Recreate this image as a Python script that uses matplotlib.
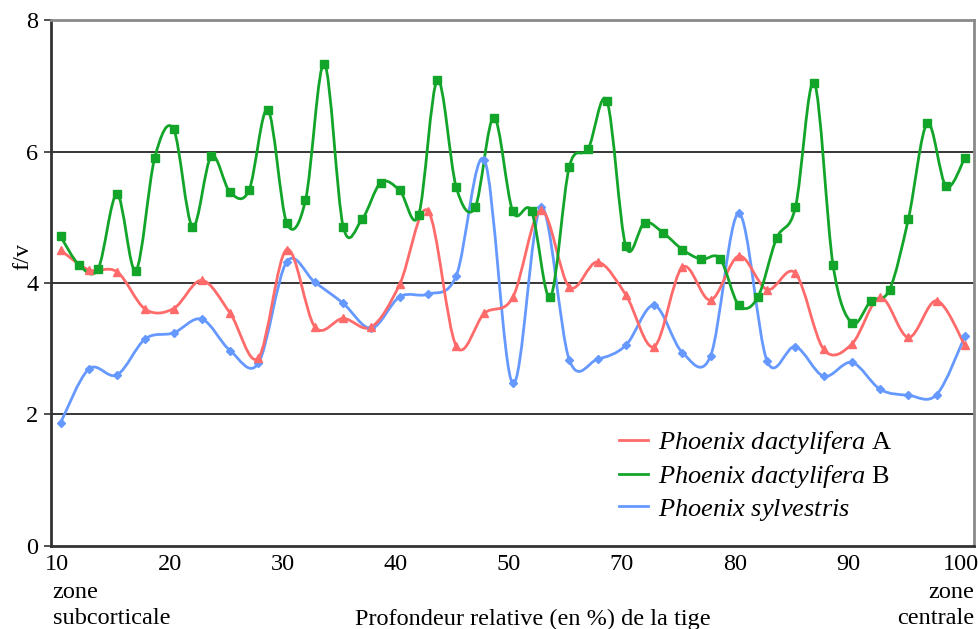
import numpy as np
import matplotlib
matplotlib.use('Agg')
import matplotlib.pyplot as plt
from matplotlib.path import Path
from matplotlib.patches import PathPatch
from matplotlib.lines import Line2D
from matplotlib.transforms import ScaledTranslation

plt.rcParams['font.family'] = ['Liberation Serif', 'DejaVu Serif']
plt.rcParams['mathtext.fontset'] = 'custom'
plt.rcParams['mathtext.it'] = 'Liberation Serif:italic'
plt.rcParams['mathtext.rm'] = 'Liberation Serif'

# f/v values
green_fv = [4.71, 4.27, 4.22, 5.35, 4.19, 5.91, 6.34, 4.86, 5.93, 5.38, 5.41, 6.64, 4.92,
            5.26, 7.34, 4.86, 4.97, 5.53, 5.41, 5.03, 7.09, 5.46, 5.15, 6.52, 5.09, 5.09,
            3.79, 5.77, 6.04, 6.77, 4.56, 4.92, 4.76, 4.51, 4.36, 4.37, 3.66, 3.78, 4.68,
            5.15, 7.05, 4.27, 3.39, 3.72, 3.90, 4.98, 6.43, 5.47, 5.91]
red_fv = [4.50, 4.20, 4.17, 3.60, 3.61, 4.04, 3.54, 2.86, 4.51, 3.33, 3.46, 3.33, 3.98,
          5.10, 3.04, 3.54, 3.78, 5.11, 3.94, 4.32, 3.82, 3.03, 4.24, 3.74, 4.41, 3.90,
          4.15, 2.99, 3.07, 3.78, 3.17, 3.73, 3.05]
blue_fv = [1.87, 2.69, 2.60, 3.15, 3.24, 3.45, 2.97, 2.78, 4.32, 4.01, 3.69, 3.31, 3.79,
           3.83, 4.11, 5.87, 2.47, 5.16, 2.83, 2.84, 3.05, 3.66, 2.94, 2.89, 5.06, 2.81,
           3.03, 2.58, 2.79, 2.38, 2.29, 2.30, 3.19]

tick_labels = ['10', '20', '30', '40', '50', '70', '80', '90', '100']
series_names = [r'$\mathit{Phoenix\ dactylifera}$ A',
                r'$\mathit{Phoenix\ dactylifera}$ B',
                r'$\mathit{Phoenix\ sylvestris}$']

c_red = '#FF6A6A'
c_green = '#12A52A'
c_blue = '#6699FF'


def smooth_path(x, y):
    # excel-like smoothed line: cubic bezier through every point
    pts = np.column_stack([x, y])
    n = len(pts)
    verts = [pts[0]]
    codes = [Path.MOVETO]
    for i in range(n - 1):
        p0 = pts[i - 1] if i > 0 else pts[i]
        p1 = pts[i]
        p2 = pts[i + 1]
        p3 = pts[i + 2] if i + 2 < n else pts[i + 1]
        verts += [p1 + (p2 - p0) / 6, p2 - (p3 - p1) / 6, p2]
        codes += [Path.CURVE4] * 3
    return Path(verts, codes)


fig = plt.figure(figsize=(9.79, 6.29), dpi=100)
ax = fig.add_axes([0.0521, 0.1326, 0.9428, 0.835])

xg = np.linspace(10, 100, len(green_fv))
xr = np.linspace(10, 100, len(red_fv))

for x, y, c, m, ms in [(xr, blue_fv, c_blue, 'D', 4.0),
                       (xr, red_fv, c_red, '^', 5.5),
                       (xg, green_fv, c_green, 's', 6.0)]:
    ax.add_patch(PathPatch(smooth_path(x, y), fill=False, edgecolor=c, lw=2.0,
                           capstyle='round', joinstyle='round'))
    ax.plot(x, y, ls='none', marker=m, ms=ms, color=c, mec=c)

ax.set_xlim(9.05, 100.9)
ax.set_ylim(0, 8)
ax.set_yticks([0, 2, 4, 6, 8])
ax.set_yticklabels(['0', '2', '4', '6', '8'], fontsize=17.5)
ax.set_xticks(np.linspace(10, 100, len(tick_labels)))
ax.set_xticklabels(tick_labels, fontsize=17.5)
ax.tick_params(axis='x', length=0, pad=6)
ax.tick_params(axis='y', length=5, width=1.2, color='#333333', pad=4)
shift = ScaledTranslation(-4 / 100, 0, fig.dpi_scale_trans)
for lab in ax.get_xticklabels():
    lab.set_transform(lab.get_transform() + shift)

for g in [2, 4, 6]:
    ax.axhline(g, color='black', lw=1.1, zorder=0)

for s in ['top', 'right']:
    ax.spines[s].set_color('#8a8a8a')
    ax.spines[s].set_linewidth(2)
for s in ['left', 'bottom']:
    ax.spines[s].set_color('#333333')
    ax.spines[s].set_linewidth(2)

ax.set_ylabel('f/v', fontsize=17.5)
ax.yaxis.set_label_coords(-0.019, 0.55)

tr = ax.get_xaxis_transform()
ax.text(9.2, -0.07, 'zone\nsubcorticale', transform=tr, ha='left', va='top',
        fontsize=17.5, linespacing=1.3)
ax.text(100.9, -0.07, 'zone\ncentrale', transform=tr, ha='right', va='top',
        fontsize=17.5, linespacing=1.3)
ax.text(57, -0.12, 'Profondeur relative (en %) de la tige', transform=tr,
        ha='center', va='top', fontsize=17.5)

handles = [Line2D([], [], color=c_red, lw=2),
           Line2D([], [], color=c_green, lw=2),
           Line2D([], [], color=c_blue, lw=2)]
ax.legend(handles, series_names, loc='upper left', bbox_to_anchor=(0.615, 0.222),
          frameon=False, fontsize=19, handlelength=1.1, handletextpad=0.4,
          labelspacing=0.26, borderpad=0, borderaxespad=0)

fig.savefig('out.png', dpi=100)
